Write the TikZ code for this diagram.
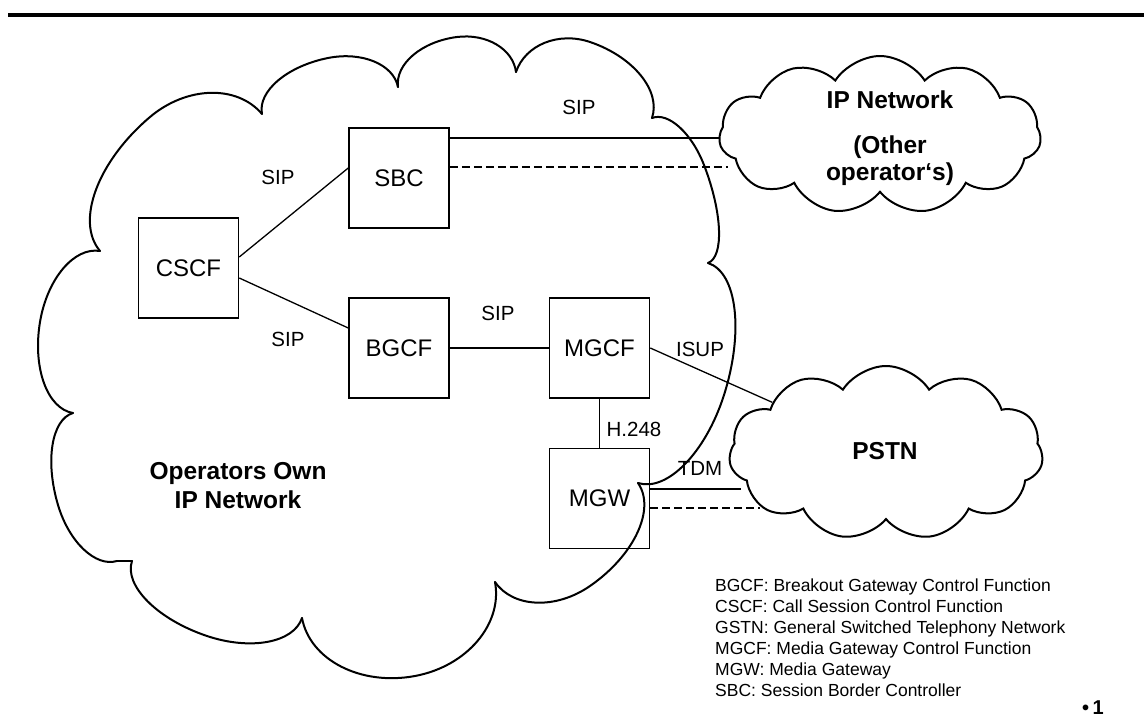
\documentclass[tikz,border=0pt]{standalone}
\usepackage{fontspec}
\setmainfont{Liberation Sans}
\usetikzlibrary{shapes.symbols,calc}
% one puff of the big cloud: from cusp #1 over apex #2 to cusp #3
\newcommand\cloudpuff[3]{%
  \coordinate (puffA) at #1;
  \coordinate (puffM) at #2;
  \coordinate (puffB) at #3;
  \coordinate (puffF) at ($(puffA)!(puffM)!(puffB)$);
  \draw[cloudline] (puffA)
    .. controls ($(puffA)+0.55*(puffM)-0.55*(puffF)$) and ($(puffM)-0.55*(puffF)+0.55*(puffA)$) .. (puffM)
    .. controls ($(puffM)+0.55*(puffB)-0.55*(puffF)$) and ($(puffB)+0.55*(puffM)-0.55*(puffF)$) .. (puffB);
}
\begin{document}
\begin{tikzpicture}[x=1pt,y=-1pt,
  box/.style={draw, line width=1.5pt, minimum width=100pt, minimum height=100pt, inner sep=0pt, font=\fontsize{24}{28}\selectfont},
  lbl/.style={inner sep=0pt, font=\fontsize{20.5}{24}\selectfont},
  big/.style={inner sep=0pt, anchor=base, font=\fontsize{24.5}{29}\selectfont\bfseries},
  leg/.style={inner sep=0pt, anchor=base west, font=\fontsize{17.5}{21}\selectfont},
  conn/.style={line width=1.3pt},
  dconn/.style={line width=2pt, dash pattern=on 8pt off 4pt},
  cloudline/.style={line width=2pt, line join=round, line cap=round},
  netcloud/.style={draw, cloud, cloud puffs=11, cloud puff arc=115, cloud ignores aspect, line width=2pt, inner sep=0pt}
]
\useasboundingbox (0,0) rectangle (1144,717);
\clip (0,0) rectangle (1144,717);

% top rule
\draw[line width=4pt] (8,15) -- (1144,15);

% big cloud (operators own IP network)
\cloudpuff{(262,114)}{(150,117)}{(100,251)}
\cloudpuff{(100,251)}{(40,322)}{(73,413)}
\cloudpuff{(73,413)}{(58,505)}{(117,561)}
\draw[cloudline] (117,561) -- (132,561);
\cloudpuff{(132,561)}{(207,636)}{(302,618)}
\cloudpuff{(302,618)}{(415,676)}{(495,582)}
\cloudpuff{(495,582)}{(590,586)}{(638,483)}
\cloudpuff{(638,483)}{(724,395)}{(708,263)}
\cloudpuff{(708,263)}{(704,165)}{(652,118)}
\cloudpuff{(652,118)}{(590,42)}{(516,72)}
\cloudpuff{(516,72)}{(457,37)}{(398,87)}
\cloudpuff{(398,87)}{(328,58)}{(262,114)}

% other networks
\node[netcloud, minimum width=322pt, minimum height=158pt] (ipnet) at (880,135) {};
\node[netcloud, minimum width=314pt, minimum height=174pt] (pstn) at (886,453) {};

\node[big] (iptext1) at (890,108) {IP Network};
\node[big] (iptext2) at (890,153) {(Other};
\node[big] (iptext3) at (890,180) {operator‘s)};
\node[big] (pstntext) at (885,459) {PSTN};
\node[big] (own1) at (238,479) {Operators Own};
\node[big] (own2) at (238,508) {IP Network};

% boxes
\node[box] (cscf) at (188.5,268) {CSCF};
\node[box] (sbc) at (399,178) {SBC};
\node[box] (bgcf) at (399,348) {BGCF};
\node[box] (mgcf) at (599.5,348) {MGCF};
\node[box] (mgw) at (599.5,498.5) {MGW};

% free ends on the cloud borders
\coordinate (ipA) at (720,138);
\coordinate (ipB) at (728,167);
\coordinate (psA) at (741,489);
\coordinate (psB) at (760,508);

% connectors
\draw[conn] (cscf.east |- 0,257) -- (sbc.west |- 0,168);
\draw[conn] (cscf.east |- 0,278) -- (bgcf.west |- 0,328);
\draw[conn] (bgcf) -- (mgcf);
\draw[conn] (mgcf) -- (mgw);
\draw[conn] (mgcf.east) -- (pstn);
\draw[conn] (sbc.east |- ipA) -- (ipA);
\draw[dconn] (sbc.east |- ipB) -- (ipB);
\draw[conn] (mgw.east |- psA) -- (psA);
\draw[dconn] (mgw.east |- psB) -- (psB);

% connector labels
\node[lbl] (sip1) at (278,177) {SIP};
\node[lbl] (sip2) at (288,339) {SIP};
\node[lbl] (sip3) at (579,107) {SIP};
\node[lbl] (sip4) at (498,313) {SIP};
\node[lbl] (isup) at (700,349) {ISUP};
\node[lbl] (h248) at (634,429) {H.248};
\node[lbl] (tdm) at (700,468) {TDM};

% legend
\node[leg] (l1) at (715,591) {BGCF: Breakout Gateway Control Function};
\node[leg] (l2) at (715,612) {CSCF: Call Session Control Function};
\node[leg] (l3) at (715,633) {GSTN: General Switched Telephony Network};
\node[leg] (l4) at (715,654) {MGCF: Media Gateway Control Function};
\node[leg] (l5) at (715,675) {MGW: Media Gateway};
\node[leg] (l6) at (715,696) {SBC: Session Border Controller};

% page number
\node[inner sep=0pt, anchor=south west, font=\fontsize{20}{24}\selectfont\bfseries] (pg) at (1082,715) {•\,1};
\end{tikzpicture}
\end{document}
